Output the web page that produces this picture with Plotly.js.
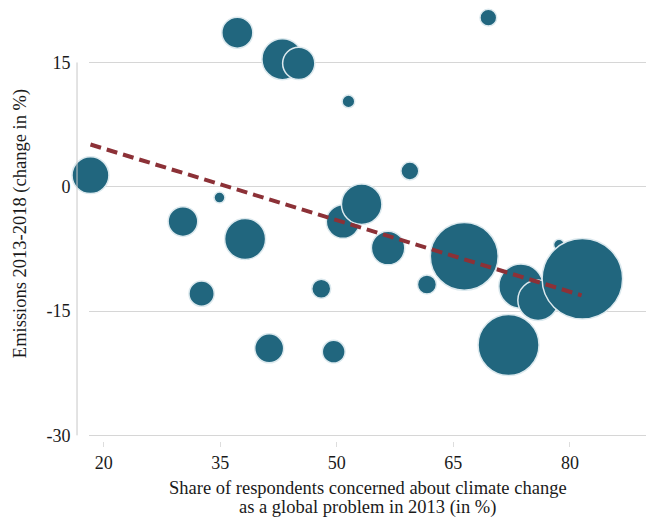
<!DOCTYPE html>
<html>
<head>
<meta charset="utf-8">
<script src="https://cdn.plot.ly/plotly-3.0.1.min.js"></script>
<style>
html,body{margin:0;padding:0;background:#fff;}
#chart{width:646px;height:518px;}
</style>
</head>
<body>
<div id="chart"></div>
<script>
// Share of respondents concerned about climate change (2013, %)
var concern = [18.3, 30.2, 32.6, 34.9, 37.2, 38.2, 41.3, 43.0, 45.1, 48.0, 49.6, 50.8, 51.5, 53.2, 56.6, 59.4, 61.6, 66.4, 69.5, 72.1, 73.7, 75.9, 78.6, 81.6];
// Emissions change 2013-2018 (%)
var emissions = [1.4, -4.2, -12.9, -1.3, 18.6, -6.3, -19.5, 15.4, 14.9, -12.3, -19.9, -4.2, 10.3, -2.1, -7.4, 1.9, -11.8, -8.4, 20.4, -19.1, -12.0, -13.7, -7.0, -11.1];
// Bubble weights (proportional to area)
var weight = [34, 22, 16, 3, 24, 42, 21, 42, 26, 9, 13, 28, 4, 41, 28, 8, 9, 115, 7, 93, 49, 41, 3, 162];
// Fitted trend line endpoints
var trendX = [18.3, 81.5];
var trendY = [5.1, -13.1];

var xTicks = [20, 35, 50, 65, 80];
var yTicks = [-30, -15, 0, 15];

var xTitle1 = 'Share of respondents concerned about climate change';
var xTitle2 = 'as a global problem in 2013 (in %)';
var yTitle = 'Emissions 2013-2018 (change in %)';

var bubbles = {
  type: 'scatter', mode: 'markers',
  x: concern, y: emissions,
  cliponaxis: false,
  marker: {
    size: weight, sizemode: 'area', sizeref: 0.05,
    color: '#21667e', opacity: 1,
    line: {color: '#dce9ee', width: 1.5}
  },
  hoverinfo: 'x+y', showlegend: false
};
var trend = {
  type: 'scatter', mode: 'lines',
  x: trendX, y: trendY,
  cliponaxis: false,
  line: {color: '#8c3137', width: 4, dash: '11px,6px'},
  hoverinfo: 'skip', showlegend: false
};

// plot area: 0..441 px high; annotation positions relative to it
var layout = {
  width: 646, height: 518,
  margin: {l: 89, r: 0, t: 0, b: 77},
  paper_bgcolor: '#fff', plot_bgcolor: '#fff',
  font: {family: 'Liberation Serif, Times New Roman, serif', size: 18, color: '#1a1a1a'},
  xaxis: {
    range: [18.11, 89.79],
    tickvals: xTicks, ticktext: xTicks.map(String),
    showgrid: false, zeroline: false, showline: false,
    ticks: 'outside', ticklen: 5, tickwidth: 1, tickcolor: '#dddddd',
    tickfont: {size: 18}
  },
  yaxis: {
    range: [-30.68, 22.54],
    tickvals: yTicks, ticktext: yTicks.map(String),
    showgrid: true, gridcolor: '#d6d6d6', gridwidth: 1,
    zeroline: false, showline: false,
    ticks: 'outside', ticklen: 14, tickcolor: 'rgba(0,0,0,0)',
    tickfont: {size: 18}
  },
  annotations: [
    {text: xTitle1, xref: 'paper', yref: 'paper', x: 0.5, y: -0.1066, xanchor: 'center', yanchor: 'middle', showarrow: false, font: {size: 18.5}},
    {text: xTitle2, xref: 'paper', yref: 'paper', x: 0.5, y: -0.1508, xanchor: 'center', yanchor: 'middle', showarrow: false, font: {size: 18.5}},
    {text: yTitle, xref: 'paper', yref: 'paper', x: -0.1239, y: 0.494, xanchor: 'center', yanchor: 'middle', textangle: -90, showarrow: false, font: {size: 18.5}}
  ],
  shapes: [{
    type: 'line', xref: 'paper', yref: 'y',
    x0: -0.0215, x1: -0.0215, y0: -30, y1: 15,
    line: {color: '#c8c8c8', width: 1}
  }]
};

Plotly.newPlot('chart', [bubbles, trend], layout, {displayModeBar: false, staticPlot: true});
</script>
</body>
</html>
